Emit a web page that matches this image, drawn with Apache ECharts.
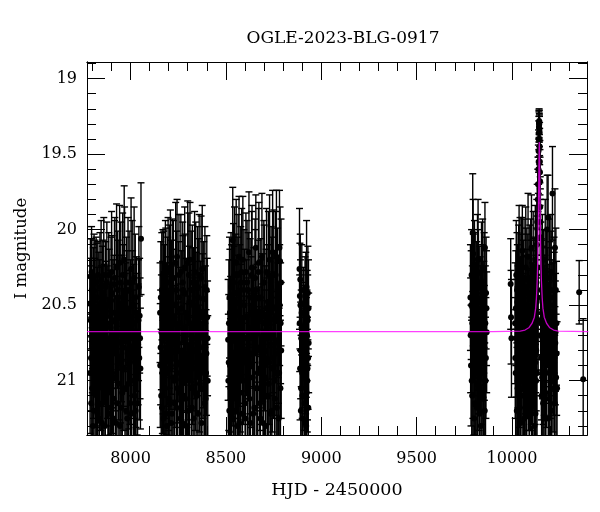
<!DOCTYPE html>
<html>
<head>
<meta charset="utf-8">
<script src="https://cdn.jsdelivr.net/npm/echarts@6/dist/echarts.min.js"></script>
<style>html,body{margin:0;padding:0;background:#fff}#c{width:600px;height:512px}</style>
</head>
<body>
<div id="c"></div>
<script>
// ---- data: [HJD-2450000, I mag, error] per observing season ----
const season2017 = [[7787,20.49,0.30],[7790,20.31,0.25],[7793,20.85,0.35],[7796,20.28,0.30],[7799,21.05,0.40],[7802,20.62,0.30],[7805,20.40,0.28],[7808,21.20,0.42],[7811,20.75,0.34],[7814,20.45,0.38],[7817,20.95,0.36],[7820,20.35,0.30],[7823,21.10,0.45],[7826,20.58,0.33],[7829,20.30,0.22],[7832,20.88,0.40],[7836,21.25,0.45],[7839,20.50,0.30],[7842,20.70,0.36],[7846,20.33,0.39],[7849,20.98,0.42],[7852,21.15,0.44],[7855,20.42,0.35],[7858,20.80,0.37],[7862,20.55,0.32],[7866,21.30,0.46],[7870,20.38,0.30],[7874,20.90,0.40],[7878,20.62,0.38],[7882,21.08,0.43],[7886,20.30,0.28],[7890,20.72,0.36],[7894,21.22,0.45],[7898,20.47,0.42],[7901,20.28,0.40],[7905,20.95,0.40],[7908,20.60,0.40],[7912,21.12,0.44],[7916,20.36,0.42],[7920,20.82,0.38],[7924,21.28,0.46],[7927,20.25,0.42],[7931,20.68,0.37],[7935,20.45,0.38],[7939,21.02,0.42],[7943,20.22,0.38],[7947,20.88,0.40],[7951,21.18,0.45],[7955,20.52,0.35],[7959,20.30,0.41],[7963,20.78,0.39],[7967,20.20,0.49],[7971,21.05,0.43],[7975,20.58,0.36],[7979,20.40,0.35],[7983,21.25,0.46],[7987,20.35,0.43],[7991,20.92,0.40],[7995,20.65,0.38],[7999,21.15,0.44],[8003,20.26,0.47],[8007,20.72,0.38],[8011,20.50,0.36],[8015,21.00,0.42],[8019,20.32,0.47],[8023,20.85,0.40],[8027,21.20,0.45],[8031,20.55,0.37],[8035,20.95,0.41],[8040,20.76,0.40],[8044,20.38,0.40],[8048,20.57,0.38],[8052,20.92,0.40],[8055,20.06,0.37],
[7788,20.95,0.40],[7791,20.60,0.36],[7794,21.15,0.44],[7797,20.40,0.34],[7800,20.70,0.38],[7803,21.30,0.46],[7806,20.85,0.40],[7809,20.35,0.32],[7812,20.55,0.36],[7815,21.08,0.43],[7818,20.68,0.38],[7821,20.90,0.40],[7824,20.45,0.36],[7827,21.22,0.45],[7830,20.78,0.38],[7834,20.52,0.37],[7837,21.00,0.42],[7840,20.38,0.36],[7844,20.92,0.41],[7847,20.62,0.38],[7850,21.28,0.46],[7853,20.48,0.37],[7857,20.98,0.42],[7860,20.30,0.38],[7864,20.75,0.39],[7868,21.12,0.44],[7872,20.58,0.37],[7876,20.35,0.40],[7880,20.85,0.40],[7884,21.18,0.45],[7888,20.50,0.37],[7892,20.95,0.41],[7896,20.65,0.38],[7900,21.05,0.43],[7903,20.42,0.38],[7906,20.78,0.40],[7910,21.25,0.46],[7914,20.55,0.38],[7918,20.32,0.40],[7922,20.98,0.42],[7926,20.62,0.39],[7929,21.15,0.45],[7933,20.40,0.39],[7937,20.85,0.41],[7941,20.55,0.38],[7945,21.30,0.46],[7949,20.35,0.40],[7953,20.75,0.39],[7957,21.08,0.44],[7961,20.48,0.38],[7965,20.92,0.41],[7969,20.30,0.45],[7973,20.68,0.39],[7977,21.20,0.45],[7981,20.52,0.38],[7985,20.82,0.40],[7989,21.02,0.43],[7993,20.40,0.39],[7997,20.88,0.41],[8001,20.58,0.38],[8005,21.22,0.46],[8009,20.35,0.41],[8013,20.80,0.40],[8017,20.62,0.39],[8021,21.10,0.44],[8025,20.45,0.42],[8029,20.90,0.41],[8033,20.68,0.39],[8037,21.15,0.45],[8042,20.60,0.40],[8046,20.85,0.41],[8050,20.72,0.40]];
const season2018 = [[8155,20.55,0.33],[8158,20.78,0.38],[8161,21.10,0.44],[8164,20.40,0.38],[8167,20.95,0.40],[8170,20.30,0.30],[8173,21.25,0.45],[8176,20.62,0.34],[8179,20.48,0.38],[8182,21.05,0.43],[8185,20.35,0.36],[8188,20.85,0.40],[8191,21.30,0.46],[8194,20.52,0.34],[8197,20.28,0.36],[8200,20.92,0.41],[8203,20.68,0.37],[8206,21.15,0.44],[8209,20.25,0.38],[8212,20.80,0.39],[8215,20.42,0.35],[8218,21.22,0.45],[8221,20.58,0.36],[8225,20.32,0.38],[8229,21.00,0.42],[8233,20.75,0.38],[8237,20.22,0.40],[8241,21.18,0.45],[8244,20.18,0.38],[8248,20.88,0.40],[8252,20.45,0.37],[8256,21.08,0.43],[8260,20.62,0.37],[8264,20.28,0.38],[8268,20.98,0.42],[8272,21.28,0.46],[8276,20.40,0.36],[8280,20.82,0.39],[8284,20.25,0.40],[8288,21.12,0.44],[8292,20.55,0.36],[8296,20.90,0.41],[8300,20.22,0.41],[8304,21.20,0.45],[8308,20.48,0.37],[8312,20.20,0.38],[8316,20.78,0.39],[8320,21.05,0.43],[8324,20.35,0.38],[8328,20.65,0.38],[8332,21.25,0.46],[8336,20.28,0.40],[8340,20.92,0.41],[8344,20.52,0.37],[8348,21.10,0.44],[8352,20.38,0.40],[8356,20.72,0.38],[8360,20.30,0.40],[8364,21.02,0.43],[8368,20.58,0.37],[8372,21.28,0.46],[8376,20.26,0.42],[8380,20.85,0.40],[8384,20.46,0.38],[8388,21.15,0.44],[8392,20.62,0.38],[8396,20.95,0.42],[8400,20.40,0.36],[8404,20.72,0.38],
[8156,20.90,0.41],[8159,20.45,0.37],[8162,20.68,0.38],[8165,21.18,0.45],[8168,20.58,0.37],[8171,20.82,0.40],[8174,20.38,0.37],[8177,21.00,0.42],[8180,20.72,0.39],[8183,20.30,0.36],[8186,21.22,0.45],[8189,20.60,0.38],[8192,20.95,0.41],[8195,20.42,0.37],[8198,20.78,0.39],[8201,21.12,0.44],[8204,20.35,0.38],[8207,20.88,0.41],[8210,20.55,0.37],[8213,21.28,0.46],[8216,20.70,0.39],[8219,20.32,0.39],[8223,20.98,0.42],[8227,20.50,0.37],[8231,21.15,0.45],[8235,20.62,0.38],[8239,20.90,0.41],[8242,20.40,0.39],[8246,21.05,0.43],[8250,20.75,0.39],[8254,20.30,0.40],[8258,20.95,0.42],[8262,21.25,0.46],[8266,20.52,0.38],[8270,20.80,0.40],[8274,20.35,0.40],[8278,21.10,0.44],[8282,20.65,0.38],[8286,20.42,0.39],[8290,20.98,0.42],[8294,21.30,0.46],[8298,20.58,0.38],[8302,20.85,0.41],[8306,20.30,0.41],[8310,21.00,0.43],[8314,20.62,0.39],[8318,20.40,0.39],[8322,21.18,0.45],[8326,20.88,0.41],[8330,20.50,0.38],[8334,20.72,0.40],[8338,21.08,0.44],[8342,20.35,0.40],[8346,20.80,0.40],[8350,20.60,0.39],[8354,21.22,0.46],[8358,20.45,0.39],[8362,20.92,0.42],[8366,20.68,0.39],[8370,20.32,0.41],[8374,21.05,0.44],[8378,20.55,0.39],[8382,20.78,0.40],[8386,20.95,0.42],[8390,20.38,0.40],[8394,21.12,0.45],[8398,20.82,0.41],[8402,20.58,0.39],[8405,21.00,0.43]];
const season2019 = [[8512,20.73,0.40],[8515,20.88,0.45],[8518,21.20,0.47],[8521,20.55,0.42],[8524,21.05,0.46],[8527,20.38,0.36],[8530,20.95,0.45],[8533,20.70,0.60],[8536,20.07,0.35],[8539,21.25,0.45],[8542,20.48,0.37],[8545,20.30,0.45],[8548,20.85,0.40],[8551,21.12,0.44],[8554,20.22,0.42],[8557,20.65,0.37],[8560,21.30,0.46],[8563,20.42,0.37],[8566,20.95,0.42],[8569,20.18,0.40],[8572,20.78,0.39],[8575,21.08,0.44],[8578,20.35,0.37],[8581,20.60,0.40],[8585,21.22,0.46],[8589,20.20,0.42],[8593,20.88,0.41],[8597,20.50,0.37],[8601,21.15,0.45],[8605,20.28,0.39],[8609,20.72,0.38],[8613,21.00,0.43],[8617,20.40,0.38],[8621,20.15,0.40],[8625,20.82,0.40],[8629,21.28,0.46],[8633,20.55,0.37],[8637,20.25,0.41],[8641,20.98,0.42],[8645,20.65,0.40],[8649,21.18,0.45],[8653,20.32,0.39],[8657,20.12,0.35],[8661,20.80,0.40],[8665,21.05,0.44],[8669,20.45,0.38],[8673,20.22,0.40],[8677,20.92,0.41],[8681,21.25,0.46],[8685,20.58,0.38],[8689,20.18,0.42],[8693,20.75,0.39],[8697,21.10,0.44],[8701,20.35,0.38],[8705,20.62,0.38],[8709,21.30,0.46],[8713,20.28,0.42],[8717,20.88,0.41],[8721,20.48,0.38],[8725,21.02,0.43],[8729,20.20,0.43],[8733,20.70,0.40],[8737,20.38,0.40],[8741,21.20,0.45],[8745,20.15,0.41],[8749,20.85,0.40],[8753,20.52,0.38],[8757,21.12,0.45],[8761,20.30,0.42],[8765,20.18,0.44],[8769,20.95,0.42],[8773,20.60,0.38],[8777,21.25,0.46],[8781,20.12,0.38],[8784,20.21,0.36],[8787,20.62,0.40],[8790,20.80,0.45],
[8513,21.00,0.44],[8516,20.62,0.42],[8519,20.45,0.40],[8522,20.90,0.44],[8525,20.72,0.41],[8528,21.15,0.46],[8531,20.50,0.40],[8534,20.85,0.42],[8537,20.60,0.40],[8540,20.35,0.39],[8543,20.95,0.42],[8546,20.70,0.40],[8549,21.20,0.46],[8552,20.42,0.39],[8555,20.82,0.40],[8558,20.55,0.38],[8561,21.05,0.44],[8564,20.30,0.40],[8567,20.75,0.40],[8570,21.28,0.46],[8573,20.48,0.38],[8576,20.92,0.42],[8579,20.62,0.39],[8583,20.28,0.42],[8587,21.00,0.43],[8591,20.68,0.39],[8595,20.40,0.40],[8599,20.85,0.41],[8603,21.25,0.46],[8607,20.58,0.38],[8611,20.35,0.41],[8615,20.98,0.42],[8619,20.72,0.40],[8623,21.12,0.45],[8627,20.45,0.39],[8631,20.90,0.41],[8635,20.30,0.42],[8639,20.65,0.39],[8643,21.22,0.46],[8647,20.50,0.38],[8651,20.82,0.40],[8655,20.40,0.40],[8659,21.05,0.44],[8663,20.62,0.39],[8667,20.95,0.42],[8671,20.28,0.42],[8675,20.78,0.40],[8679,21.15,0.45],[8683,20.45,0.39],[8687,20.88,0.41],[8691,20.55,0.39],[8695,21.28,0.46],[8699,20.35,0.41],[8703,20.80,0.40],[8707,20.98,0.43],[8711,20.52,0.39],[8715,20.72,0.40],[8719,21.10,0.45],[8723,20.30,0.42],[8727,20.88,0.41],[8731,20.60,0.39],[8735,21.22,0.46],[8739,20.45,0.40],[8743,20.92,0.42],[8747,20.68,0.40],[8751,20.30,0.43],[8755,21.00,0.44],[8759,20.58,0.39],[8763,20.82,0.41],[8767,21.18,0.46],[8771,20.40,0.41],[8775,20.75,0.40],[8779,20.95,0.43],[8782,20.50,0.40],[8786,21.05,0.45],[8789,20.35,0.42]];
const season2020 = [[8886,20.26,0.40],[8888,20.44,0.35],[8890,20.33,0.30],[8892,20.80,0.32],[8894,21.05,0.35],[8897,20.55,0.28],[8900,20.95,0.30],[8903,21.25,0.40],[8906,20.65,0.30],[8909,20.78,0.28],[8912,21.15,0.38],[8915,20.48,0.30],[8918,20.90,0.32],[8921,21.30,0.40],[8923,20.38,0.44],[8925,20.70,0.30],[8927,21.00,0.34],[8929,20.60,0.30],[8931,20.85,0.34],[8933,20.52,0.32],
[8887,20.62,0.32],[8889,20.92,0.34],[8891,20.50,0.30],[8893,21.20,0.40],[8895,20.72,0.32],[8898,20.40,0.30],[8901,21.10,0.38],[8904,20.85,0.33],[8907,20.55,0.30],[8910,20.98,0.35],[8913,20.68,0.31],[8916,21.28,0.40],[8919,20.45,0.30],[8922,20.78,0.33],[8924,21.08,0.37],[8926,20.58,0.31],[8928,20.92,0.34],[8930,20.42,0.31],[8932,21.18,0.39],[8934,20.75,0.33]];
const season2022 = [[9782,20.45,0.35],[9785,20.90,0.40],[9788,20.30,0.30],[9791,21.10,0.42],[9794,20.02,0.39],[9796,20.16,0.36],[9798,20.60,0.38],[9801,21.25,0.45],[9804,20.72,0.38],[9807,20.38,0.36],[9810,20.95,0.42],[9813,20.55,0.36],[9816,21.18,0.44],[9819,20.28,0.38],[9822,20.20,0.40],[9825,20.82,0.40],[9828,21.05,0.43],[9831,20.48,0.37],[9834,20.65,0.38],[9837,21.30,0.46],[9840,20.35,0.40],[9843,20.88,0.41],[9846,20.25,0.32],[9849,21.12,0.44],[9852,20.58,0.37],[9855,20.75,0.38],[9858,20.12,0.30],[9861,21.00,0.42],[9864,20.42,0.37],[9867,20.68,0.40],
[9783,20.70,0.38],[9786,20.50,0.36],[9789,21.00,0.42],[9792,20.62,0.38],[9795,20.85,0.40],[9797,20.40,0.37],[9800,20.95,0.41],[9803,20.32,0.38],[9806,21.15,0.44],[9809,20.60,0.38],[9812,20.78,0.39],[9815,20.45,0.37],[9818,21.02,0.43],[9821,20.68,0.38],[9824,20.38,0.38],[9827,20.92,0.41],[9830,21.22,0.45],[9833,20.55,0.37],[9836,20.80,0.40],[9839,20.62,0.38],[9842,21.08,0.44],[9845,20.48,0.38],[9848,20.72,0.39],[9851,20.95,0.42],[9854,20.40,0.38],[9857,21.20,0.45],[9860,20.62,0.38],[9863,20.85,0.40],[9866,20.52,0.38]];
const season2023 = [[9993,20.36,0.30],[9995,20.58,0.31],[9997,20.72,0.39],[10016,20.62,0.40],[10019,20.95,0.42],[10022,20.30,0.36],[10025,21.20,0.45],[10028,20.48,0.38],[10031,20.78,0.40],[10034,21.05,0.43],[10037,20.22,0.38],[10040,20.60,0.38],[10042,20.20,0.28],[10045,21.28,0.46],[10048,20.40,0.37],[10051,20.88,0.41],[10054,20.14,0.30],[10057,20.55,0.37],[10060,21.10,0.44],[10063,20.32,0.39],[10066,20.72,0.38],[10069,20.98,0.42],[10072,20.25,0.40],[10075,21.22,0.45],[10078,20.50,0.37],[10081,20.85,0.40],[10084,20.18,0.42],[10087,20.65,0.38],[10090,21.15,0.45],[10093,20.35,0.38],[10096,20.92,0.41],[10099,20.45,0.38],[10102,20.12,0.35],[10105,21.05,0.43],[10108,20.60,0.38],[10111,20.28,0.40],[10114,20.80,0.40],[10117,21.30,0.46],[10120,20.42,0.37],[10122,20.20,0.36],[10124,20.70,0.38],[10126,21.00,0.42],[10128,20.35,0.36],[10130,20.10,0.30],[10132,19.95,0.25],[10134,20.45,0.38],[10135,19.80,0.20],[10136,19.70,0.18],[10137,20.60,0.36],[10138,19.60,0.16],[10139,19.48,0.14],[10140,19.40,0.12],[10141,19.32,0.10],[10142,19.28,0.08],[10143,19.30,0.07],[10144,19.35,0.10],[10145,19.45,0.12],[10146,19.55,0.14],[10147,19.68,0.16],[10148,19.85,0.20],[10149,20.05,0.25],[10150,20.70,0.40],[10151,20.25,0.30],[10153,20.40,0.34],[10155,21.10,0.44],[10157,20.55,0.38],[10159,20.30,0.40],[10162,20.88,0.41],[10165,20.48,0.37],[10168,21.25,0.46],[10171,20.62,0.38],[10174,20.20,0.40],[10177,20.95,0.42],[10180,20.38,0.38],[10184,20.00,0.36],[10189,19.92,0.28],[10192,20.75,0.40],[10195,21.12,0.44],[10198,20.45,0.37],[10201,20.85,0.40],[10204,20.28,0.38],[10207,21.20,0.46],[10210,20.58,0.38],[10212,19.76,0.31],[10215,20.92,0.42],[10218,20.50,0.38],[10220,20.45,0.40],[10222,21.05,0.44],[10225,20.12,0.39],[10228,20.68,0.39],[10231,20.98,0.42],[10234,20.82,0.41],
[10017,20.85,0.40],[10020,20.52,0.38],[10023,20.72,0.39],[10026,20.40,0.38],[10029,21.05,0.44],[10032,20.62,0.38],[10035,20.35,0.38],[10038,20.90,0.41],[10041,21.18,0.45],[10044,20.58,0.38],[10047,20.78,0.40],[10050,20.30,0.38],[10053,21.00,0.43],[10056,20.68,0.39],[10059,20.45,0.38],[10062,20.95,0.42],[10065,21.25,0.46],[10068,20.55,0.38],[10071,20.82,0.40],[10074,20.38,0.39],[10077,21.08,0.44],[10080,20.65,0.39],[10083,20.42,0.39],[10086,20.92,0.41],[10089,20.58,0.39],[10092,21.20,0.45],[10095,20.72,0.40],[10098,20.32,0.39],[10101,20.88,0.41],[10104,20.52,0.38],[10107,21.12,0.45],[10110,20.78,0.40],[10113,20.45,0.39],[10116,20.98,0.42],[10119,20.62,0.39],[10121,20.88,0.41],[10123,21.22,0.46],[10125,20.55,0.38],[10127,20.80,0.40],[10129,20.48,0.38],[10131,20.95,0.42],[10133,20.25,0.34],[10139.5,19.55,0.15],[10140.5,19.36,0.11],[10141.5,19.30,0.09],[10142.5,19.29,0.08],[10143.5,19.33,0.09],[10144.5,19.40,0.11],[10146.5,19.62,0.15],[10148.5,19.95,0.22],[10152,20.62,0.38],[10154,20.85,0.41],[10156,20.45,0.38],[10158,20.98,0.42],[10160,20.72,0.40],[10163,21.15,0.45],[10166,20.38,0.38],[10169,20.82,0.41],[10172,20.55,0.38],[10175,21.08,0.44],[10178,20.65,0.39],[10181,20.90,0.41],[10186,20.50,0.38],[10190,21.25,0.46],[10193,20.62,0.39],[10196,20.32,0.39],[10199,20.95,0.42],[10202,20.70,0.40],[10205,20.40,0.39],[10208,21.00,0.43],[10214,20.62,0.40],[10217,20.82,0.41],[10221,20.55,0.40],[10224,21.15,0.45],[10227,20.75,0.41],[10230,20.40,0.41],[10233,20.62,0.41],[10236,21.05,0.44]];
const season2024 = [[10352,20.415,0.21],[10373,20.99,0.40]];

// model light curve (HJD-2450000, I mag)
const modelHJD = [7772, 9900, 10043, 10068, 10088, 10105, 10117, 10124, 10128, 10132, 10135, 10137, 10139, 10141, 10142, 10143, 10144, 10145, 10147, 10149, 10151, 10154, 10158, 10162, 10169, 10181, 10198, 10218, 10243, 10400];
const modelMag = [20.675, 20.675, 20.672, 20.665, 20.65, 20.62, 20.58, 20.52, 20.45, 20.34, 20.2, 20.03, 19.82, 19.59, 19.48, 19.42, 19.48, 19.59, 19.82, 20.03, 20.2, 20.34, 20.45, 20.52, 20.58, 20.62, 20.65, 20.665, 20.672, 20.675];

// axes
const xMin = 7772, xMax = 10393;
const yMin = 18.89, yMax = 21.36;
const xMajorTicks = [8000, 8500, 9000, 9500, 10000];
const xMinorTicks = [7800, 7900, 8100, 8200, 8300, 8400, 8600, 8700, 8800, 8900, 9100, 9200, 9300, 9400, 9600, 9700, 9800, 9900, 10100, 10200, 10300];
const yMajorTicks = [19, 19.5, 20, 20.5, 21];
const yMinorTicks = [18.9, 19.1, 19.2, 19.3, 19.4, 19.6, 19.7, 19.8, 19.9, 20.1, 20.2, 20.3, 20.4, 20.6, 20.7, 20.8, 20.9, 21.1, 21.2, 21.3];

const titleText = 'OGLE-2023-BLG-0917';
const xTitle = 'HJD - 2450000';
const yTitle = 'I magnitude';

const FONT = 'DejaVu Serif';
const obs = [].concat(season2017, season2018, season2019, season2020, season2022, season2023, season2024);
const model = modelHJD.map((t, i) => [t, modelMag[i]]);

function xAx(pos, ticks, len, showLabel, name) {
  const a = {
    type: 'value', position: pos, min: xMin, max: xMax, scale: true,
    axisLine: { show: true, onZero: false, lineStyle: { color: '#000', width: 1 } },
    axisTick: { show: true, inside: true, length: len, customValues: ticks, lineStyle: { color: '#000', width: 1 } },
    axisLabel: { show: showLabel, customValues: ticks, margin: 16, color: '#000', fontFamily: FONT, fontSize: 16,
      formatter: (v) => String(v) },
    splitLine: { show: false }
  };
  if (name) {
    a.name = name; a.nameLocation = 'middle'; a.nameGap = 46;
    a.nameTextStyle = { color: '#000', fontFamily: FONT, fontSize: 17.5 };
  }
  return a;
}
function yAx(pos, ticks, len, showLabel, name) {
  const a = {
    type: 'value', position: pos, min: yMin, max: yMax, inverse: true, scale: true,
    axisLine: { show: true, onZero: false, lineStyle: { color: '#000', width: 1 } },
    axisTick: { show: true, inside: true, length: len, customValues: ticks, lineStyle: { color: '#000', width: 1 } },
    axisLabel: { show: showLabel, customValues: ticks, margin: 10, color: '#000', fontFamily: FONT, fontSize: 16,
      formatter: (v) => String(v) },
    splitLine: { show: false }
  };
  if (name) {
    a.name = name; a.nameLocation = 'middle'; a.nameGap = 56;
    a.nameTextStyle = { color: '#000', fontFamily: FONT, fontSize: 16.5 };
  }
  return a;
}

function renderErr(params, api) {
  const t = api.value(0), m = api.value(1), e = api.value(2);
  const p0 = api.coord([t, m - e]);
  const p1 = api.coord([t, m + e]);
  const c = api.coord([t, m]);
  const st = { stroke: '#000', lineWidth: 1.4 };
  return {
    type: 'group',
    children: [
      { type: 'line', shape: { x1: p0[0], y1: p0[1], x2: p1[0], y2: p1[1] }, style: st },
      { type: 'line', shape: { x1: p0[0] - 3.5, y1: p0[1], x2: p0[0] + 3.5, y2: p0[1] }, style: st },
      { type: 'line', shape: { x1: p1[0] - 3.5, y1: p1[1], x2: p1[0] + 3.5, y2: p1[1] }, style: st },
      { type: 'circle', shape: { cx: c[0], cy: c[1], r: 3 }, style: { fill: '#000' } }
    ]
  };
}

const chart = echarts.init(document.getElementById('c'), null, { renderer: 'canvas' });
chart.setOption({
  animation: false,
  backgroundColor: '#fff',
  title: {
    text: titleText, left: 338, top: 25, textAlign: 'center',
    textStyle: { fontFamily: FONT, fontSize: 17, fontWeight: 'normal', color: '#000' }
  },
  grid: { left: 87, right: 13, top: 62, bottom: 77, containLabel: false },
  xAxis: [
    xAx('bottom', xMajorTicks, 18, true, xTitle),
    xAx('bottom', xMinorTicks, 9, false),
    xAx('top', xMajorTicks, 18, false),
    xAx('top', xMinorTicks, 9, false)
  ],
  yAxis: [
    yAx('left', yMajorTicks, 18, true, yTitle),
    yAx('left', yMinorTicks, 9, false),
    yAx('right', yMajorTicks, 18, false),
    yAx('right', yMinorTicks, 9, false)
  ],
  series: [
    {
      type: 'custom', name: 'OGLE', xAxisIndex: 0, yAxisIndex: 0, clip: true,
      renderItem: renderErr, encode: { x: 0, y: 1 }, data: obs, z: 2
    },
    {
      type: 'line', name: 'model', xAxisIndex: 0, yAxisIndex: 0, data: model, showSymbol: false,
      clip: true, smooth: false, z: 3,
      lineStyle: { color: '#ff00ff', width: 1.3, opacity: 0.75 }
    }
  ]
});
</script>
</body>
</html>
